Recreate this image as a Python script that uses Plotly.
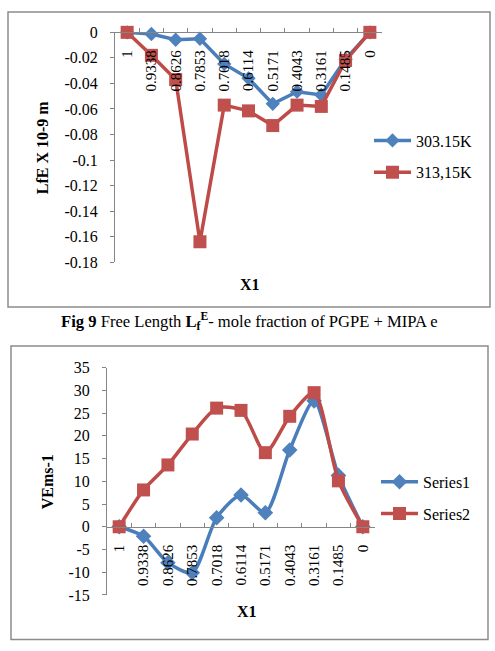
import plotly.graph_objects as go

W, H = 495, 651

# ---------------- data ----------------
x_cats = ["1", "0.9338", "0.8626", "0.7853", "0.7018", "0.6114",
          "0.5171", "0.4043", "0.3161", "0.1485", "0"]

lfe_303 = [0, -0.0013, -0.0058, -0.0050, -0.0247, -0.0360,
           -0.0560, -0.0465, -0.0490, -0.0210, 0]
lfe_313 = [0, -0.0180, -0.0370, -0.1640, -0.0570, -0.0615,
           -0.0730, -0.0570, -0.0580, -0.0220, 0]

ve_s1 = [0, -2.1, -7.9, -10.1, 2.0, 7.0, 3.1, 16.9, 27.7, 11.3, 0]
ve_s2 = [0, 8.1, 13.6, 20.4, 26.1, 25.6, 16.3, 24.3, 29.5, 10.1, 0]

y1_ticks = [0, -0.02, -0.04, -0.06, -0.08, -0.1, -0.12, -0.14, -0.16, -0.18]
y1_labels = ["0", "-0.02", "-0.04", "-0.06", "-0.08", "-0.1", "-0.12", "-0.14", "-0.16", "-0.18"]
y2_ticks = [35, 30, 25, 20, 15, 10, 5, 0, -5, -10, -15]
y2_labels = ["35", "30", "25", "20", "15", "10", "5", "0", "-5", "-10", "-15"]

BLUE_L, BLUE_M = "#4A7EBB", "#4F81BD"
RED_L, RED_M = "#BE4B48", "#C0504D"
GREY = "#868686"
FONT = "Liberation Serif"

def px(x):
    return x / W

def py(y):
    return 1 - y / H

fig = go.Figure()

# chart 1
fig.add_trace(go.Scatter(x=x_cats, y=lfe_303, name="303.15K", mode="lines+markers",
                         line=dict(color=BLUE_L, width=3.5),
                         marker=dict(symbol="diamond", size=11, color=BLUE_M),
                         xaxis="x", yaxis="y", legend="legend", cliponaxis=False,
                         legendgroup="a"))
fig.add_trace(go.Scatter(x=x_cats, y=lfe_313, name="313,15K", mode="lines+markers",
                         line=dict(color=RED_L, width=3.5),
                         marker=dict(symbol="square", size=13, color=RED_M),
                         xaxis="x", yaxis="y", legend="legend", cliponaxis=False,
                         legendgroup="b"))
# chart 2
fig.add_trace(go.Scatter(x=x_cats, y=ve_s1, name="Series1", mode="lines+markers",
                         line=dict(color=BLUE_L, width=3.5, shape="spline", smoothing=0.7),
                         marker=dict(symbol="diamond", size=12, color=BLUE_M),
                         xaxis="x2", yaxis="y2", legend="legend2", cliponaxis=False,
                         legendgroup="c"))
fig.add_trace(go.Scatter(x=x_cats, y=ve_s2, name="Series2", mode="lines+markers",
                         line=dict(color=RED_L, width=3.5, shape="spline", smoothing=0.7),
                         marker=dict(symbol="square", size=13, color=RED_M),
                         xaxis="x2", yaxis="y2", legend="legend2", cliponaxis=False,
                         legendgroup="d"))

tickfont = dict(family=FONT, size=15, color="#000")

y1_dom = [py(261), py(25)]
y2_dom = [py(602.7), py(369.3)]

xcommon = dict(type="category", categoryorder="array", categoryarray=x_cats,
               range=[-0.5, 10.5], showline=True, linecolor=GREY, linewidth=1,
               ticks="inside", ticklen=4, tickcolor=GREY, tickson="boundaries",
               tickangle=-90, tickfont=tickfont, showgrid=False, zeroline=False,
               side="bottom", anchor="free", ticklabelstandoff=11, fixedrange=True)

ycommon = dict(showline=True, linecolor=GREY, linewidth=1, ticks="outside", ticklen=4,
               tickcolor=GREY, tickfont=dict(family=FONT, size=16, color="#000"),
               showgrid=False, zeroline=False, ticklabelstandoff=9, fixedrange=True)

legfont = dict(family=FONT, size=16, color="#000")

fig.update_layout(
    width=W, height=H, margin=dict(l=0, r=0, t=0, b=0),
    paper_bgcolor="white", plot_bgcolor="white",
    showlegend=True,
    xaxis=dict(domain=[px(115), px(382)], position=y1_dom[1], **xcommon),
    yaxis=dict(domain=y1_dom, range=[-0.18, 0], anchor="x",
               tickvals=y1_ticks, ticktext=y1_labels, **ycommon),
    xaxis2=dict(domain=[px(107), px(375)], position=py(532.7), **xcommon),
    yaxis2=dict(domain=y2_dom, range=[-15, 35], anchor="x2",
                tickvals=y2_ticks, ticktext=y2_labels, **ycommon),
    legend=dict(x=px(369), y=py(152.5), xanchor="left", yanchor="middle",
                font=legfont, bgcolor="rgba(0,0,0,0)", tracegroupgap=8,
                traceorder="grouped", itemwidth=37),
    legend2=dict(x=px(376), y=py(503), xanchor="left", yanchor="middle",
                 font=legfont, bgcolor="rgba(0,0,0,0)", tracegroupgap=8,
                 traceorder="grouped", itemwidth=37),
    shapes=[
        dict(type="rect", xref="paper", yref="paper", x0=px(8), x1=px(490),
             y0=py(307), y1=py(4), line=dict(color="#8c8c8c", width=1.5)),
        dict(type="rect", xref="paper", yref="paper", x0=px(11), x1=px(488),
             y0=py(648.5), y1=py(347), line=dict(color="#8c8c8c", width=1.5)),
    ],
    annotations=[
        dict(text="<b>X1</b>", x=px(250), y=py(284), xref="paper", yref="paper",
             xanchor="center", yanchor="middle", showarrow=False,
             font=dict(family=FONT, size=16, color="#000")),
        dict(text="<b>LfE X 10-9 m</b>", x=px(42), y=py(143), xref="paper", yref="paper",
             xanchor="center", yanchor="middle", showarrow=False, textangle=-90,
             font=dict(family=FONT, size=16, color="#000")),
        dict(text="<b>X1</b>", x=px(247), y=py(620), xref="paper", yref="paper",
             xanchor="center", yanchor="middle", showarrow=False,
             font=dict(family=FONT, size=16, color="#000")),
        dict(text="<b>VEms-1</b>", x=px(47), y=py(487), xref="paper", yref="paper",
             xanchor="center", yanchor="middle", showarrow=False, textangle=-90,
             font=dict(family=FONT, size=16, color="#000")),
        dict(text="<b>Fig 9</b> Free Length <b>L<sub>f</sub><sup>E</sup></b>- mole fraction of PGPE + MIPA e",
             x=px(249), y=py(322), xref="paper", yref="paper",
             xanchor="center", yanchor="middle", showarrow=False,
             font=dict(family=FONT, size=16.6, color="#000")),
    ],
)

fig.write_html("out.html")
